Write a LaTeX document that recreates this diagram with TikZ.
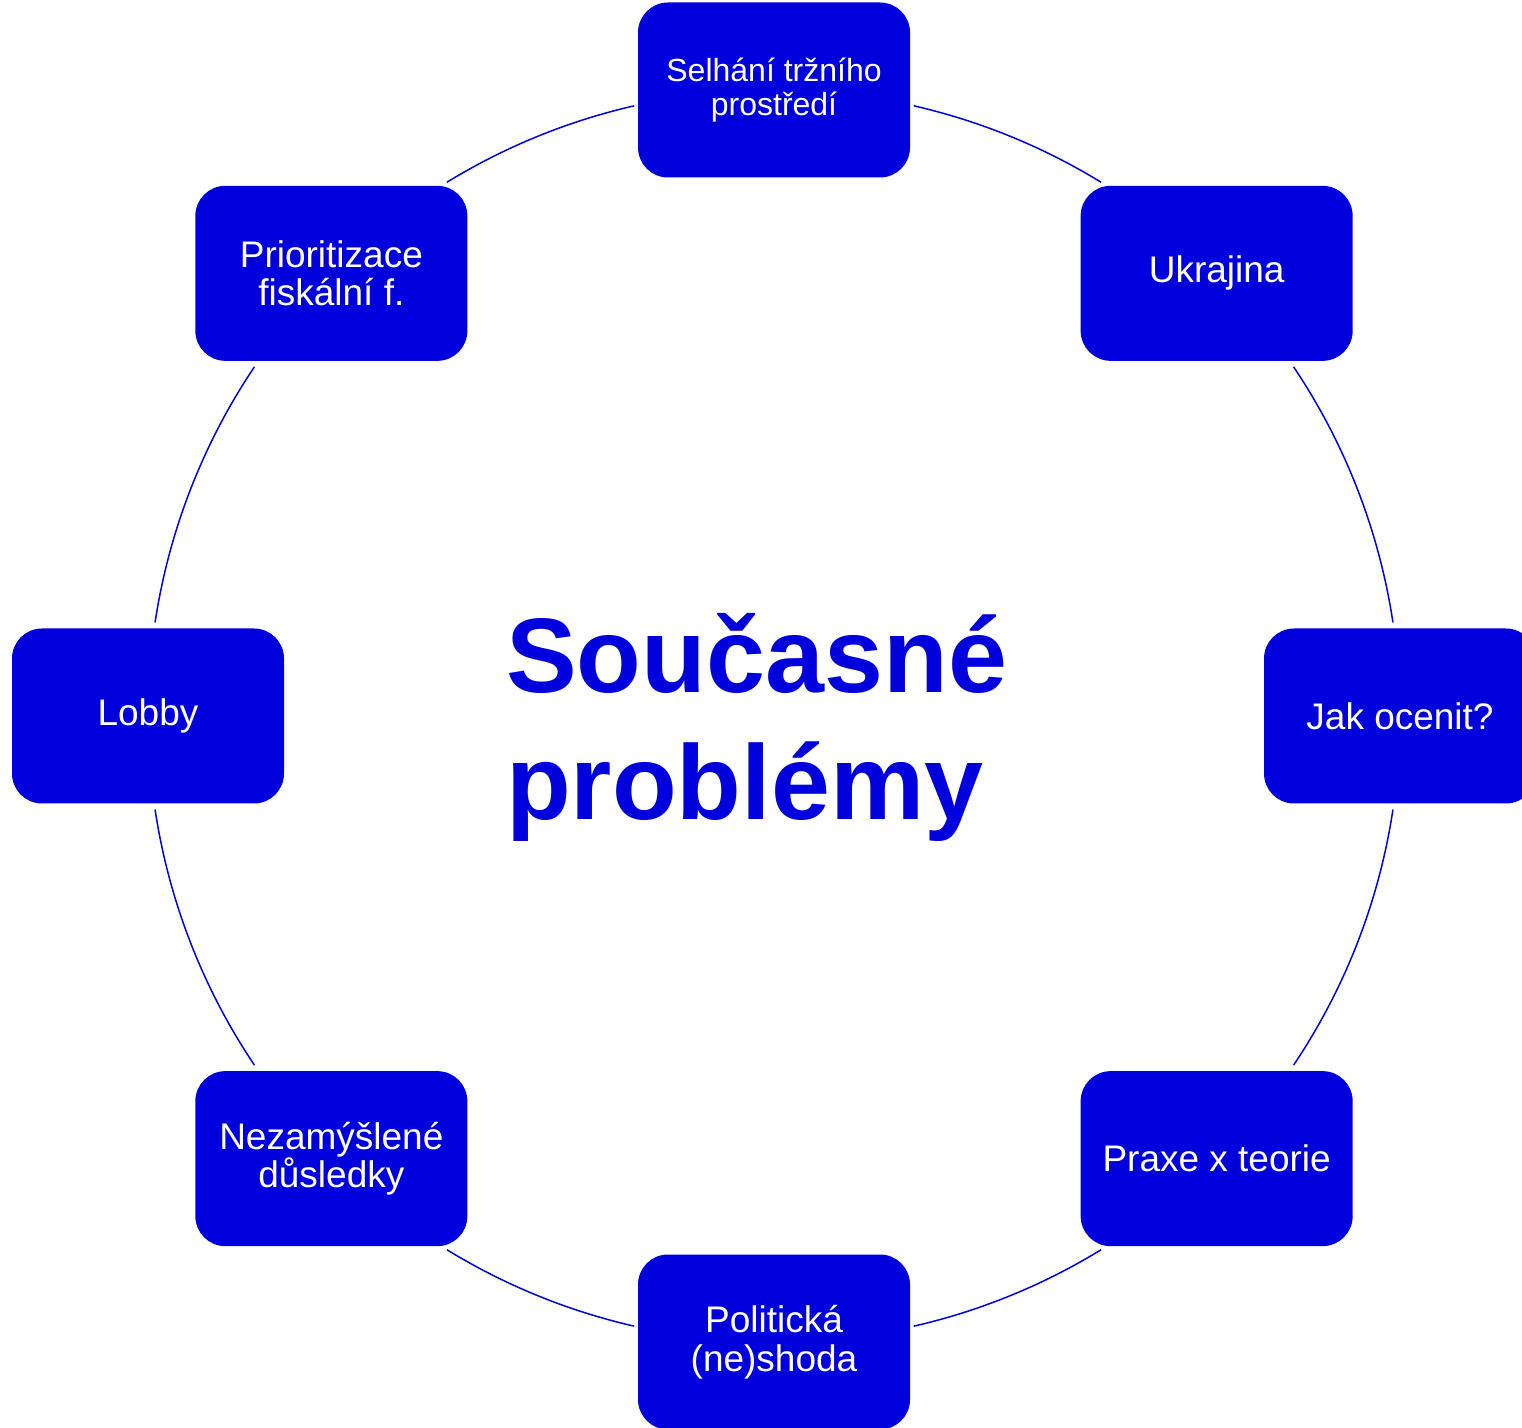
\documentclass[tikz,border=0pt]{standalone}
\usepackage{fontspec}
\setmainfont{Liberation Sans}
\definecolor{bl}{RGB}{0,0,220}
\begin{document}
\begin{tikzpicture}[x=1pt,y=1pt,
  topic/.style={draw=none, fill=bl, rounded corners=30pt, minimum width=272pt, minimum height=175pt,
    text=white, align=center, inner sep=0pt, font=\fontsize{37}{38.5}\selectfont},
  ring/.style={draw=bl, line width=1.5pt}]
\useasboundingbox (0,0) rectangle (1522,1427);
\coordinate (c) at (774,711);
\foreach \a/\b in {77.1/58.5, 33.9/8.6, -8.6/-33.9, -58.5/-77.1, -102.9/-121.5, -146.1/-171.4, 171.4/146.1, 121.5/102.9}{
  \draw[ring] ([shift={(\a:626pt)}]c) arc[start angle=\a, end angle=\b, radius=626pt];
}
\node[topic, font=\fontsize{32}{34}\selectfont] (n1) at ([shift={(90:626pt)}]c) {Selhání tržního\\prostředí};
\node[topic] (n2) at ([shift={(45:626pt)}]c) {Ukrajina};
\node[topic] (n3) at ([shift={(0:626pt)}]c) {Jak ocenit?};
\node[topic] (n4) at ([shift={(-45:626pt)}]c) {Praxe x teorie};
\node[topic] (n5) at ([shift={(-90:626pt)}]c) {Politická\\(ne)shoda};
\node[topic] (n6) at ([shift={(-135:626pt)}]c) {Nezamýšlené\\důsledky};
\node[topic] (n7) at ([shift={(180:626pt)}]c) {Lobby};
\node[topic] (n8) at ([shift={(135:626pt)}]c) {Prioritizace\\fiskální f.};
\node[anchor=base west, inner sep=0pt, align=left, text=bl, font=\fontsize{106}{127}\selectfont\bfseries] (title) at (506,607) {Současné\\problémy};
\end{tikzpicture}
\end{document}
